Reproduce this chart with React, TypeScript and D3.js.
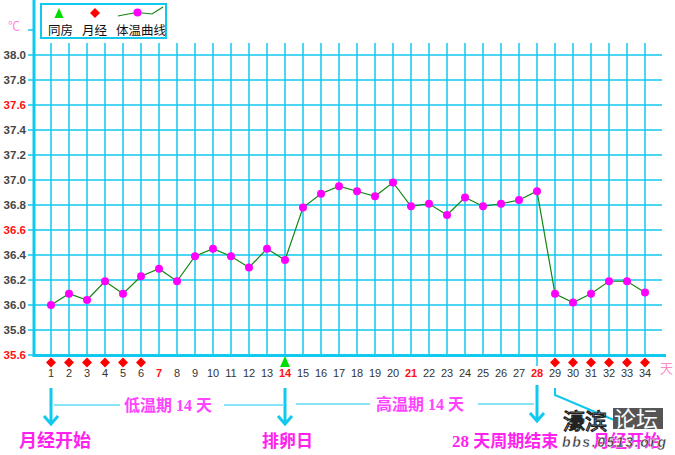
import React from "react";
import * as d3 from "d3";

const days = [1,2,3,4,5,6,7,8,9,10,11,12,13,14,15,16,17,18,19,20,21,22,23,24,25,26,27,28,29,30,31,32,33,34];
const temps = [36.0,36.09,36.04,36.19,36.09,36.23,36.29,36.19,36.39,36.45,36.39,36.3,36.45,36.36,36.78,36.89,36.95,36.91,36.87,36.98,36.79,36.81,36.72,36.86,36.79,36.81,36.84,36.91,36.09,36.02,36.09,36.19,36.19,36.1];
const mensesDays = [1,2,3,4,5,6,29,30,31,32,33,34];
const intercourseDays = [14];
const redDays = [7,14,21,28];
const yTicks = [35.6,35.8,36.0,36.2,36.4,36.6,36.8,37.0,37.2,37.4,37.6,37.8,38.0];
const redYTicks = [35.6,36.6,37.6];
const legendLabels = ["同房","月经","体温曲线"];

const CYAN = "#11c8ee";
const PINK = "#ff44ff";
const MAG = "#ff22ee";
const CJK = "'Noto Sans CJK SC', sans-serif";

export default function App() {
  const x = d3.scaleLinear().domain([1, 34]).range([51, 645]);
  const y = d3.scaleLinear().domain([35.6, 38.0]).range([355, 55]);
  const line = d3.line<number>().x((_, i) => x(days[i])).y((d) => y(d));
  const diamond = (cx: number, cy: number, r: number) =>
    `M${cx},${cy - r}L${cx + r},${cy}L${cx},${cy + r}L${cx - r},${cy}Z`;
  const arrow = (ax: number, y0: number, y1: number) => (
    <g stroke={CYAN} strokeWidth={3} fill="none">
      <line x1={ax} x2={ax} y1={y0} y2={y1} />
      <polyline points={`${ax - 7},${y1 - 8} ${ax},${y1} ${ax + 7},${y1 - 8}`} />
    </g>
  );
  return (
    <svg width={675} height={455} style={{ position: "absolute", left: 0, top: 0, background: "#fff" }}>
      <rect width={675} height={455} fill="#fff" />
      {/* grid */}
      {yTicks.slice(1).map((t) => (
        <line key={"h" + t} x1={35} x2={662} y1={y(t)} y2={y(t)} stroke={CYAN} strokeWidth={1.5} />
      ))}
      {days.map((d) => (
        <line key={"v" + d} x1={x(d)} x2={x(d)} y1={43} y2={d === 28 ? 366 : 355} stroke={CYAN} strokeWidth={1.5} />
      ))}
      {/* axes */}
      <line x1={34} x2={34} y1={0} y2={357} stroke={CYAN} strokeWidth={3} />
      <line x1={33} x2={666} y1={355.5} y2={355.5} stroke={CYAN} strokeWidth={3} />
      {[...yTicks, 38.2].map((t) => (
        <line key={"t" + t} x1={28} x2={33} y1={y(t)} y2={y(t)} stroke={CYAN} strokeWidth={1.5} />
      ))}
      {yTicks.map((t) => (
        <text key={"yl" + t} x={26} y={y(t) + 4} textAnchor="end" fontFamily="Arial, 'Liberation Sans', sans-serif"
          fontSize={11.5} fontWeight="bold" fill={redYTicks.includes(t) ? "#ff1111" : "#444"}>
          {t.toFixed(1)}
        </text>
      ))}
      <text x={8} y={31} fontFamily={CJK} fontSize={12} fill="#ff88dd">℃</text>
      {/* x labels */}
      {days.map((d) => (
        <text key={"xl" + d} x={x(d)} y={377} textAnchor="middle" fontFamily="Arial, 'Liberation Sans', sans-serif"
          fontSize={11} fontWeight={redDays.includes(d) ? "bold" : "normal"} fill={redDays.includes(d) ? "#ff1111" : "#333"}>
          {d}
        </text>
      ))}
      <text x={660} y={373} fontFamily={CJK} fontSize={13} fill="#ff88cc">天</text>
      {/* markers */}
      {mensesDays.map((d) => (
        <path key={"m" + d} d={diamond(x(d), 362.5, 5)} fill="#ff0000" />
      ))}
      {intercourseDays.map((d) => (
        <path key={"i" + d} d={`M${x(d)},356L${x(d) + 5},367L${x(d) - 5},367Z`} fill="#00dd00" />
      ))}
      {/* temperature line */}
      <path d={line(temps) || ""} fill="none" stroke="#118811" strokeWidth={1.2} />
      {temps.map((t, i) => (
        <circle key={"c" + i} cx={x(days[i])} cy={y(t)} r={4} fill="#ff00ff" />
      ))}
      {/* legend */}
      <rect x={41} y={4} width={125} height={34} fill="#fff" stroke={CYAN} strokeWidth={2} />
      <path d="M59,8L63.5,18L54.5,18Z" fill="#00dd00" />
      <path d={diamond(95, 13, 5)} fill="#ff0000" />
      <polyline points="118,16 128,14 137.5,12.5 152,14 163,7" fill="none" stroke="#118811" strokeWidth={1.2} />
      <circle cx={137.5} cy={12.5} r={4} fill="#ff00ff" />
      <text x={48} y={35} fontFamily={CJK} fontSize={12.5} fill="#111">{legendLabels[0]}</text>
      <text x={82} y={35} fontFamily={CJK} fontSize={12.5} fill="#111">{legendLabels[1]}</text>
      <text x={116} y={35} fontFamily={CJK} fontSize={12.5} fill="#111">{legendLabels[2]}</text>
      {/* annotations */}
      {arrow(x(1), 388, 424)}
      {arrow(x(14), 388, 424)}
      {arrow(x(28), 385, 421)}
      <g stroke={CYAN} strokeWidth={1.2}>
        <line x1={54} x2={120} y1={405} y2={405} />
        <line x1={224} x2={283} y1={405} y2={405} />
        <line x1={296} x2={370} y1={404} y2={404} />
        <line x1={478} x2={534} y1={404} y2={404} />
      </g>
      <polyline points={`${x(29)},388 ${x(29)},395 614,420`} fill="none" stroke={CYAN} strokeWidth={2} />
      <text x={124} y={411} fontFamily={CJK} fontSize={16} fontWeight="bold" fill={PINK}>
        低温期<tspan fontFamily="'Liberation Serif', serif"> 14 </tspan>天
      </text>
      <text x={376} y={410} fontFamily={CJK} fontSize={16} fontWeight="bold" fill={PINK}>
        高温期<tspan fontFamily="'Liberation Serif', serif"> 14 </tspan>天
      </text>
      <text x={19} y={447} fontFamily={CJK} fontSize={18} fontWeight="bold" fill={MAG}>月经开始</text>
      <text x={262} y={447} fontFamily={CJK} fontSize={17} fontWeight="bold" fill={MAG}>排卵日</text>
      <text x={452} y={447} fontFamily={CJK} fontSize={17} fontWeight="bold" fill={MAG}>
        <tspan fontFamily="'Liberation Serif', serif">28 </tspan>天周期结束
      </text>
      <text x={593} y={447} fontFamily={CJK} fontSize={17} fontWeight="bold" fill={MAG}>月经开始</text>
      {/* watermark */}
      <text x={563} y={429} fontFamily={CJK} fontSize={22} fill="#fff" stroke="#222" strokeWidth={1.2}>濠滨</text>
      <rect x={613} y={408} width={50} height={21} fill="#555" />
      <text x={614} y={427} fontFamily={CJK} fontSize={22} fill="#fff">论坛</text>
      <text x={562} y={447} fontFamily="Arial, 'Liberation Sans', sans-serif" fontSize={14} fontWeight="bold"
        fontStyle="italic" letterSpacing={1.6} fill="#333" stroke="#fff" strokeWidth={0.4}>bbs.0513.org</text>
    </svg>
  );
}
